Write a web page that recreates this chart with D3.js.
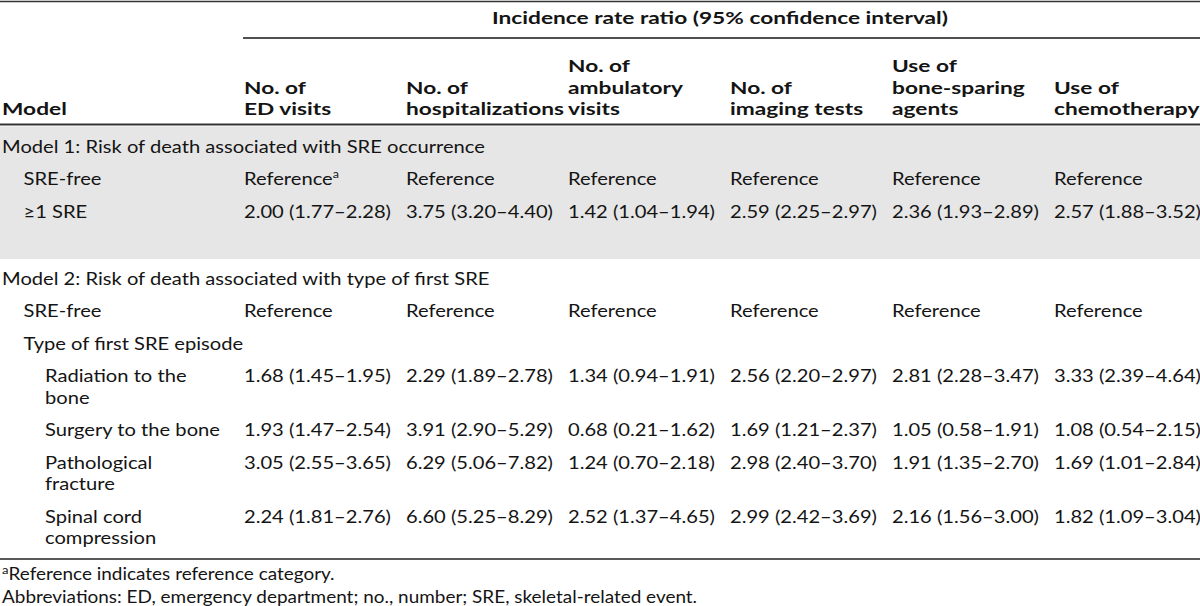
<!DOCTYPE html>
<html><head><meta charset="utf-8">
<script src="https://cdn.jsdelivr.net/npm/d3@7"></script>
<style>html,body{margin:0;padding:0;background:#fff;}svg{display:block;}</style>
</head><body>
<svg id="chart" width="1200" height="606"></svg>
<script>
// ---------- data ----------
const spannerTitle = "Incidence rate ratio (95% confidence interval)";
const stubHeader = "Model";
const columnHeaders = [
  ["No. of", "ED visits"],
  ["No. of", "hospitalizations"],
  ["No. of", "ambulatory", "visits"],
  ["No. of", "imaging tests"],
  ["Use of", "bone-sparing", "agents"],
  ["Use of", "chemotherapy"]
];
const rowLabels = [
  ["Model 1: Risk of death associated with SRE occurrence"],
  ["SRE-free"],
  ["\u22651 SRE"],
  ["Model 2: Risk of death associated with type of first SRE"],
  ["SRE-free"],
  ["Type of first SRE episode"],
  ["Radiation to the", "bone"],
  ["Surgery to the bone"],
  ["Pathological", "fracture"],
  ["Spinal cord", "compression"]
];
const rowIndent = [0, 1, 1, 0, 1, 1, 2, 2, 2, 2];
const edVisits =        ["", "Reference", "2.00 (1.77\u20132.28)", "", "Reference", "", "1.68 (1.45\u20131.95)", "1.93 (1.47\u20132.54)", "3.05 (2.55\u20133.65)", "2.24 (1.81\u20132.76)"];
const hospitalizations =["", "Reference", "3.75 (3.20\u20134.40)", "", "Reference", "", "2.29 (1.89\u20132.78)", "3.91 (2.90\u20135.29)", "6.29 (5.06\u20137.82)", "6.60 (5.25\u20138.29)"];
const ambulatoryVisits =["", "Reference", "1.42 (1.04\u20131.94)", "", "Reference", "", "1.34 (0.94\u20131.91)", "0.68 (0.21\u20131.62)", "1.24 (0.70\u20132.18)", "2.52 (1.37\u20134.65)"];
const imagingTests =    ["", "Reference", "2.59 (2.25\u20132.97)", "", "Reference", "", "2.56 (2.20\u20132.97)", "1.69 (1.21\u20132.37)", "2.98 (2.40\u20133.70)", "2.99 (2.42\u20133.69)"];
const boneSparing =     ["", "Reference", "2.36 (1.93\u20132.89)", "", "Reference", "", "2.81 (2.28\u20133.47)", "1.05 (0.58\u20131.91)", "1.91 (1.35\u20132.70)", "2.16 (1.56\u20133.00)"];
const chemotherapy =    ["", "Reference", "2.57 (1.88\u20133.52)", "", "Reference", "", "3.33 (2.39\u20134.64)", "1.08 (0.54\u20132.15)", "1.69 (1.01\u20132.84)", "1.82 (1.09\u20133.04)"];
const seriesValues = [edVisits, hospitalizations, ambulatoryVisits, imagingTests, boneSparing, chemotherapy];
const footnotes = [
  {sup: "a", text: "Reference indicates reference category."},
  {sup: "", text: "Abbreviations: ED, emergency department; no., number; SRE, skeletal-related event."}
];

// ---------- layout ----------
const svg = d3.select("#chart");
const FONT = "Lato, 'Open Sans', sans-serif";
const ink = "#141414";
const SIZE = 17.4;

function measure(txt, weight) {
  const t = svg.append("text").attr("font-family", FONT).attr("font-weight", weight)
    .attr("font-size", SIZE).text(txt);
  const w = t.node().getComputedTextLength(); t.remove(); return w;
}
// horizontal stretch so widths match the reference (its type is wide for its height)
const sxReg = 483 / measure(rowLabels[0][0], 400);
const sxBold = 158 / measure("hospitalizations", 700);

function label(px, py, weight, anchor) {
  return svg.append("text")
    .attr("transform", `translate(${px},${py}) scale(${weight === 700 ? sxBold : sxReg},1)`)
    .attr("font-family", FONT).attr("font-weight", weight).attr("font-size", SIZE)
    .attr("text-anchor", anchor || "start").attr("fill", ink);
}

const x = d3.scaleLinear().domain([0, 5]).range([244, 1054]);
const indent = d3.scaleLinear().domain([0, 2]).range([2, 45]);
const lineGap = 21.5, rowPitch = 32.5;

const rowY = [];
{
  let y = 152.5;
  rowLabels.forEach((lab, i) => {
    if (i === 3) y = 284.5;
    rowY.push(y);
    y += rowPitch + lineGap * (lab.length - 1);
  });
}

// gray band for model 1
svg.append("rect").attr("x", 0).attr("y", 126.5).attr("width", 1200).attr("height", 132.5).attr("fill", "#e6e6e6");

// rules
svg.append("line").attr("x1", 0).attr("x2", 1200).attr("y1", 1.5).attr("y2", 1.5).attr("stroke", "#333").attr("stroke-width", 1.5);
svg.append("line").attr("x1", 243).attr("x2", 1200).attr("y1", 38).attr("y2", 38).attr("stroke", "#505050").attr("stroke-width", 2);
svg.append("line").attr("x1", 0).attr("x2", 1200).attr("y1", 124.5).attr("y2", 124.5).attr("stroke", "#333").attr("stroke-width", 2);
svg.append("line").attr("x1", 0).attr("x2", 1200).attr("y1", 559).attr("y2", 559).attr("stroke", "#222").attr("stroke-width", 1.5);

// spanner
label(720, 24, 700, "middle").text(spannerTitle);

// header
const headBase = 115;
label(2, headBase, 700).text(stubHeader);
columnHeaders.forEach((lines, c) => {
  lines.forEach((ln, k) => {
    label(x(c), headBase - lineGap * (lines.length - 1 - k), 700).text(ln);
  });
});

// row labels
rowLabels.forEach((lines, i) => {
  lines.forEach((ln, k) => {
    label(indent(rowIndent[i]), rowY[i] + lineGap * k, 400).text(ln);
  });
});

// cells
seriesValues.forEach((vals, c) => {
  vals.forEach((v, i) => {
    if (!v) return;
    const t = label(x(c), rowY[i], 400);
    t.append("tspan").text(v);
    if (c === 0 && i === 1) {
      t.append("tspan").attr("dy", -7).attr("font-size", SIZE * 0.62).text("a");
    }
  });
});

// footnotes
footnotes.forEach((f, i) => {
  const t = label(2, 580 + 23 * i, 400).attr("font-size", SIZE * 0.94);
  if (f.sup) {
    t.append("tspan").attr("dy", -6).attr("font-size", SIZE * 0.65).text(f.sup);
    t.append("tspan").attr("dy", 6).text(f.text);
  } else {
    t.append("tspan").text(f.text);
  }
});
</script>
</body></html>
